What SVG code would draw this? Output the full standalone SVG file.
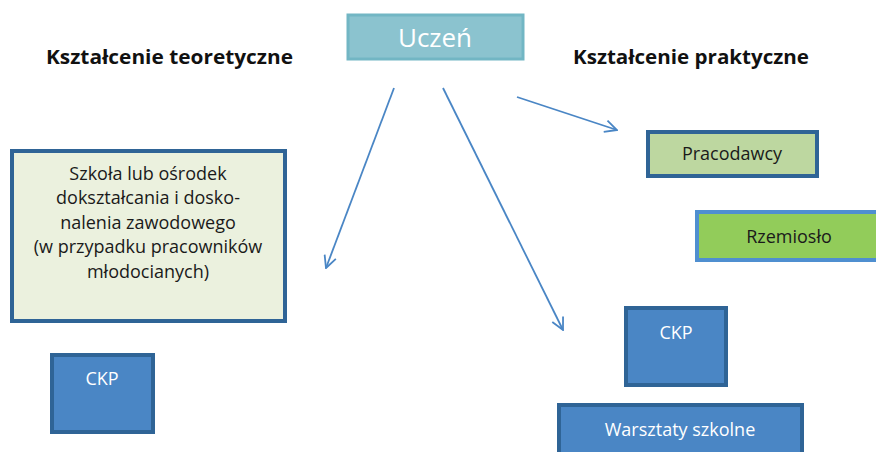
<svg xmlns="http://www.w3.org/2000/svg" width="876" height="452" viewBox="0 0 876 452">
  <style>
    text { font-family: "Open Sans", "Liberation Sans", sans-serif; text-anchor: middle; }
    .head { font-weight: bold; font-size: 20px; fill: #111111; text-anchor: start; }
    .dark { fill: #1a1a1a; font-size: 18px; }
    .light { fill: #ffffff; font-size: 18px; }
    .blue { fill: #4a86c5; stroke: #2f6496; stroke-width: 4; }
    .conn { stroke: #4a86c5; stroke-width: 1.8; fill: none; marker-end: url(#arr); }
  </style>
  <defs>
    <marker id="arr" viewBox="0 0 14 14" refX="13" refY="7" markerWidth="14" markerHeight="14" markerUnits="userSpaceOnUse" orient="auto">
      <path d="M1,1 L13,7 L1,13" fill="none" stroke="#4a86c5" stroke-width="1.8"/>
    </marker>
  </defs>
  <rect width="876" height="452" fill="#ffffff"/>

  <text class="head" x="46" y="64" textLength="247" lengthAdjust="spacingAndGlyphs">Kształcenie teoretyczne</text>
  <text class="head" x="573" y="64" textLength="236" lengthAdjust="spacingAndGlyphs">Kształcenie praktyczne</text>

  <g id="uczen">
    <rect x="348" y="15" width="175" height="44" fill="#8bc3cf" stroke="#72b6c4" stroke-width="3"/>
    <text x="435" y="47" font-size="26" fill="#ffffff">Uczeń</text>
  </g>

  <g id="szkola">
    <rect x="12" y="151" width="273" height="170" fill="#ebf1de" stroke="#2f6496" stroke-width="4"/>
    <text class="dark" x="148" y="180">Szkoła lub ośrodek</text>
    <text class="dark" x="148" y="204">dokształcania i dosko-</text>
    <text class="dark" x="148" y="229">nalenia zawodowego</text>
    <text class="dark" x="148" y="253">(w przypadku pracowników</text>
    <text class="dark" x="148" y="278">młodocianych)</text>
  </g>

  <g id="ckp-left">
    <rect class="blue" x="52" y="355" width="101" height="77"/>
    <text class="light" x="102" y="385">CKP</text>
  </g>

  <g id="pracodawcy">
    <rect x="648" y="132" width="169" height="44" fill="#bdd7a0" stroke="#2f6496" stroke-width="4"/>
    <text class="dark" x="732" y="160">Pracodawcy</text>
  </g>

  <g id="rzemioslo">
    <rect x="697" y="212" width="185" height="48" fill="#92cc5a" stroke="#4f8fd0" stroke-width="4"/>
    <text class="dark" x="789" y="243">Rzemiosło</text>
  </g>

  <g id="ckp-right">
    <rect class="blue" x="626" y="308" width="100" height="77"/>
    <text class="light" x="676" y="339">CKP</text>
  </g>

  <g id="warsztaty">
    <rect class="blue" x="559" y="405" width="243" height="56"/>
    <text class="light" x="680" y="436">Warsztaty szkolne</text>
  </g>

  <g id="connectors">
    <line class="conn" x1="394" y1="88" x2="326" y2="268"/>
    <line class="conn" x1="443" y1="88" x2="563" y2="330"/>
    <line class="conn" x1="517" y1="97" x2="617" y2="130"/>
  </g>
</svg>
